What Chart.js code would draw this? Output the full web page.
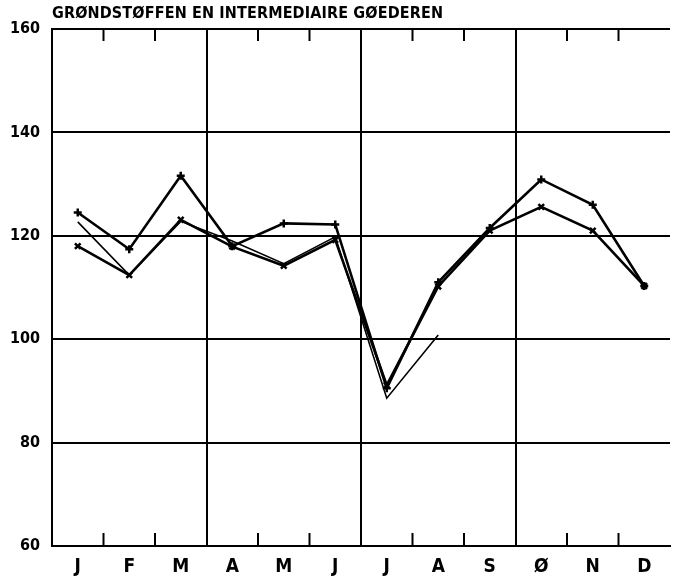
<!DOCTYPE html>
<html>
<head>
<meta charset="utf-8">
<script src="https://cdn.jsdelivr.net/npm/chart.js@4"></script>
<style>
  html, body { margin: 0; padding: 0; background: #fff; }
  #wrap { width: 680px; height: 585px; }
</style>
</head>
<body>
<div id="wrap"><canvas id="chart"></canvas></div>
<script>
/* Data */
const months = ['J', 'F', 'M', 'A', 'M', 'J', 'J', 'A', 'S', 'Ø', 'N', 'D'];
const plusSeries = [124.5, 117.4, 131.6, 118, 122.4, 122.2, 90.5, 111, 121.5, 130.9, 126, 110.3];
const crossSeries = [118, 112.4, 123.1, 117.9, 114.2, 119.2, 91.1, 110.2, 121, 125.6, 121, 110.3];
const thinSeries = [122.7, 112.4, 122.8, 119, 114.6, 119.8, 88.6, 100.8, null, null, null, null];
const yTicks = [60, 80, 100, 120, 140, 160];
const titleText = 'GRØNDSTØFFEN EN INTERMEDIAIRE GØEDEREN';

const condensed = "'DejaVu Sans Condensed', 'Liberation Sans Narrow', 'DejaVu Sans', sans-serif";

/* title drawn at the left edge of the plot area */
const titlePlugin = {
    id: 'leftTitle',
    afterDraw(chart){
        const c = chart.ctx;
        const area = chart.chartArea;
        c.save();
        c.font = 'bold 16px ' + condensed;
        c.fillStyle = '#000';
        c.textBaseline = 'middle';
        const w = c.measureText(titleText).width;
        c.letterSpacing = Math.max(0, (391 - w) / (titleText.length - 1)) + 'px';
        c.fillText(titleText, area.left, 14);
        c.restore();
    }
};

/* short month ticks on the inside of the top and bottom edges */
const monthTicks = {
    id: 'monthTicks',
    afterDatasetsDraw(chart){
        const c = chart.ctx;
        const x = chart.scales.x;
        const area = chart.chartArea;
        c.save();
        c.strokeStyle = '#000';
        c.lineWidth = 2;
        for (let i = 1; i < months.length; i++){
            if (i % 3 === 0) continue;
            const px = (x.getPixelForValue(i - 1) + x.getPixelForValue(i)) / 2;
            c.beginPath();
            c.moveTo(px, area.bottom);
            c.lineTo(px, area.bottom - 13);
            c.moveTo(px, area.top);
            c.lineTo(px, area.top + 12);
            c.stroke();
        }
        c.restore();
    }
};

new Chart(document.getElementById('chart'), {
    type: 'line',
    data: {
        labels: months,
        datasets: [
            {
                data: plusSeries,
                borderColor: '#000',
                borderWidth: 2.6,
                pointStyle: 'cross',
                pointRadius: 4,
                pointBorderWidth: 2.5,
                pointBorderColor: '#000',
                tension: 0
            },
            {
                data: crossSeries,
                borderColor: '#000',
                borderWidth: 2.6,
                pointStyle: 'crossRot',
                pointRadius: 4,
                pointBorderWidth: 2.5,
                pointBorderColor: '#000',
                tension: 0
            },
            {
                data: thinSeries,
                borderColor: '#000',
                borderWidth: 1.6,
                pointRadius: 0,
                spanGaps: false,
                tension: 0
            }
        ]
    },
    options: {
        responsive: true,
        maintainAspectRatio: false,
        animation: false,
        events: [],
        layout: { padding: { top: 29, right: 10, left: 0, bottom: 0 } },
        plugins: {
            legend: { display: false },
            title: { display: false },
            tooltip: { enabled: false }
        },
        scales: {
            x: {
                offset: true,
                grid: {
                    offset: true,
                    drawTicks: false,
                    lineWidth: 2,
                    color: (ctx) => (ctx.index % 3 === 0 ? '#000' : 'rgba(0,0,0,0)')
                },
                border: { display: true, color: '#000', width: 2 },
                ticks: {
                    color: '#000',
                    padding: 10,
                    maxRotation: 0,
                    autoSkip: false,
                    font: { family: condensed, size: 19, weight: 'bold' }
                },
                afterFit(scale){ scale.height = 39; }
            },
            y: {
                min: 60,
                max: 160,
                afterBuildTicks(scale){
                    scale.ticks = yTicks.map((v) => ({ value: v }));
                },
                grid: { drawTicks: false, lineWidth: 2, color: '#000' },
                border: { display: true, color: '#000', width: 2 },
                ticks: {
                    color: '#000',
                    padding: 12,
                    font: { family: condensed, size: 16, weight: 'bold' }
                },
                afterFit(scale){ scale.width = 52; }
            }
        }
    },
    plugins: [titlePlugin, monthTicks]
});
</script>
</body>
</html>
